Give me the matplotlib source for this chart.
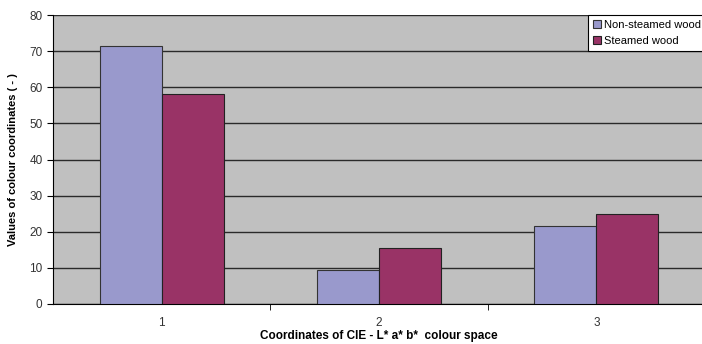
import matplotlib.pyplot as plt
import numpy as np

plt.rcParams['font.family'] = ['Liberation Sans', 'DejaVu Sans']

categories = ['1', '2', '3']
non_steamed = [71.3, 9.4, 21.6]
steamed = [58.1, 15.4, 24.9]

fig = plt.figure(figsize=(7.02, 3.44), dpi=100)
ax = fig.add_axes([53/702, 1 - 304/344, 652/702, 289/344])
ax.set_facecolor('#C0C0C0')

x = np.arange(len(categories))
w = 1 / 3.5
ax.bar(x - w/2, non_steamed, w, color='#9999CC', edgecolor='#333333', lw=0.8, label='Non-steamed wood', zorder=3)
ax.bar(x + w/2, steamed, w, color='#993366', edgecolor='#222222', lw=0.8, label='Steamed wood', zorder=3)

ax.set_xlim(-0.5, 2.5)
ax.set_ylim(0, 80)
ax.set_yticks(range(0, 81, 10))
ax.yaxis.grid(True, color='#2a2a2a', lw=1, zorder=1)
ax.set_axisbelow(True)

ax.set_xticks(x)
ax.set_xticklabels(categories)
ax.set_xticks([0.5, 1.5], minor=True)
ax.tick_params(axis='x', which='major', length=0, pad=9, labelsize=8.5, labelcolor='#333333')
ax.tick_params(axis='x', which='minor', length=4, direction='out', color='black')
ax.tick_params(axis='y', length=4, direction='out', labelsize=8.5, labelcolor='#333333')

for s in ['top', 'right']:
    ax.spines[s].set_visible(False)
ax.spines['left'].set_color('black')
ax.spines['bottom'].set_color('black')

ax.set_ylabel('Values of colour coordinates ( - )', fontsize=8, fontweight='bold', labelpad=8)
ax.set_xlabel('Coordinates of CIE - L* a* b*  colour space', fontsize=8.5, fontweight='bold', labelpad=1)

leg = ax.legend(loc='upper left', bbox_to_anchor=(588/702, 1 - 15/344), bbox_transform=fig.transFigure,
                fontsize=8, frameon=True, fancybox=False, edgecolor='black', facecolor='white', framealpha=1,
                handlelength=0.7, handleheight=0.7, handletextpad=0.3, borderpad=0.45, labelspacing=0.55,
                borderaxespad=0)
leg.get_frame().set_linewidth(0.8)

fig.savefig('out.png', dpi=100)
